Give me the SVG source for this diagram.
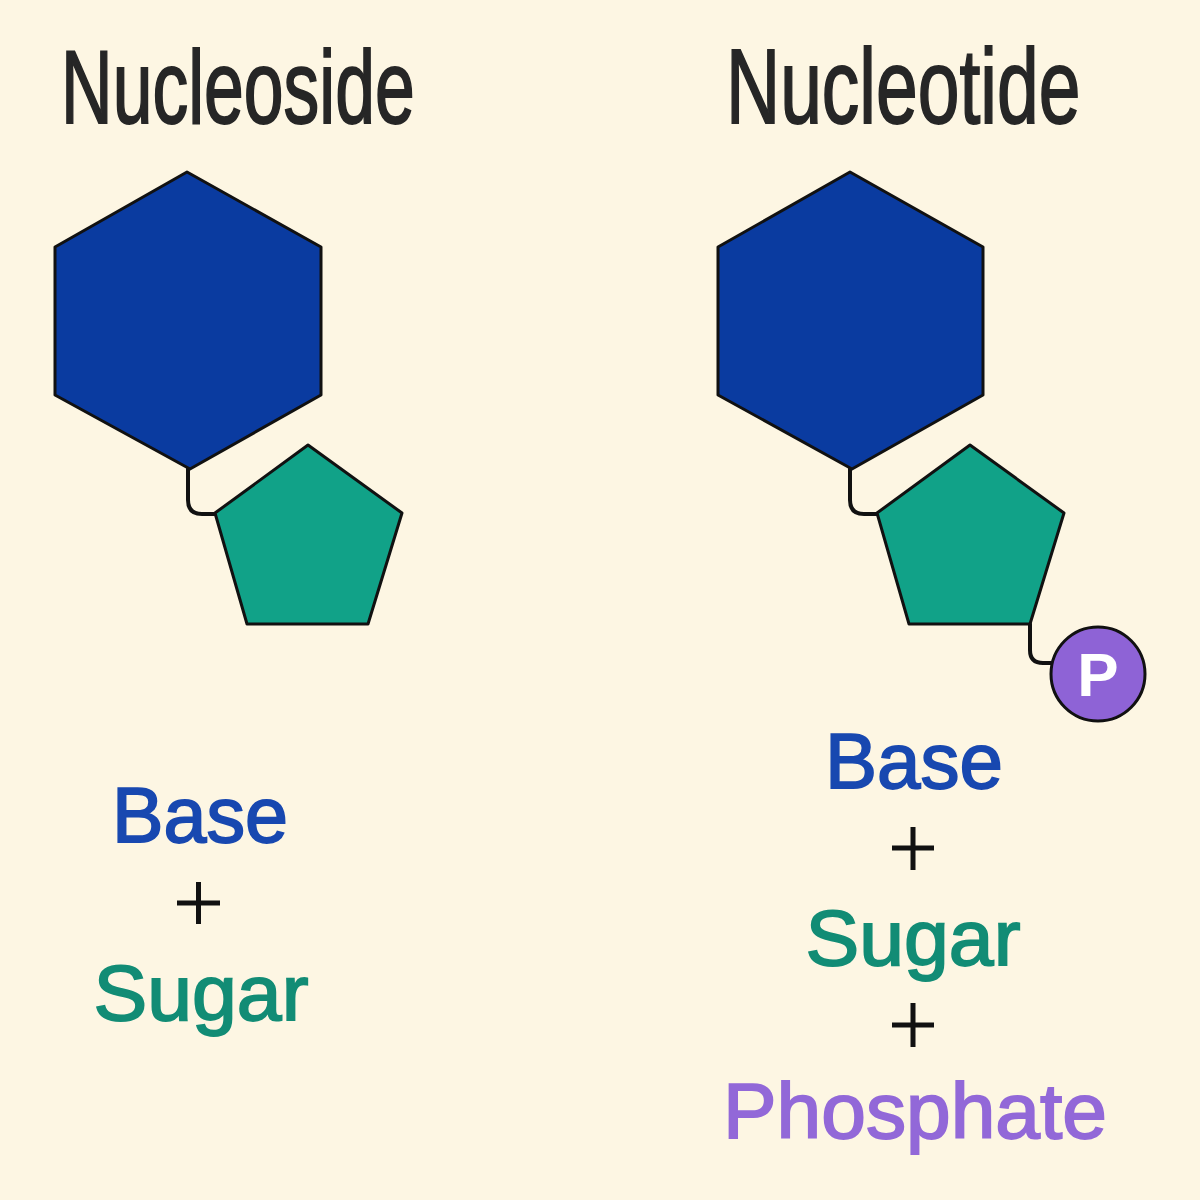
<svg xmlns="http://www.w3.org/2000/svg" width="1200" height="1200" viewBox="0 0 1200 1200">
<style>
.title{font-family:"Liberation Sans",Arial,sans-serif;font-size:75px;fill:#262626;stroke:#262626;stroke-width:1.3}
.lbl{font-family:"Liberation Sans",Arial,sans-serif;font-size:77px;text-anchor:middle;stroke-width:1.8}
.base{fill:#1848B0;stroke:#1848B0}
.sugar{fill:#128C75;stroke:#128C75}
.phos{fill:#9268D8;stroke:#9268D8}
.hex{fill:#0A3BA0;stroke:#111;stroke-width:3;stroke-linejoin:round}
.pent{fill:#11A288;stroke:#111;stroke-width:3;stroke-linejoin:round}
.link{fill:none;stroke:#111;stroke-width:4;stroke-linecap:round}
.plus{stroke:#111;stroke-width:5}
</style>
<rect width="1200" height="1200" fill="#FDF6E3"/>
<text class="title" transform="translate(61,123) scale(1,1.45)" style="font-size:71.5px">Nucleoside</text>
<text class="title" transform="translate(726,123) scale(1,1.4)">Nucleotide</text>
<g id="connectors">
<path class="link" d="M188,468 L188,500 Q188,514 202,514 L215,514"/>
<path class="link" d="M850,468 L850,500 Q850,514 864,514 L877,514"/>
<path class="link" d="M1030,624 L1030,650 Q1030,663 1043,663 L1053,663"/>
</g>
<g id="base-left"><polygon class="hex" points="187,172 321,247 321,395 190,469 55,395 55,247"/></g>
<g id="sugar-left"><polygon class="pent" points="308,445 402,513 368,624 247,624 215,513"/></g>
<g id="base-right"><polygon class="hex" points="850,172 983,247 983,395 852,469 718,395 718,247"/></g>
<g id="sugar-right"><polygon class="pent" points="970,445 1064,513 1030,624 909,624 877,513"/></g>
<g id="phosphate">
<circle cx="1098" cy="674" r="47" fill="#8E63D6" stroke="#111" stroke-width="3"/>
<text x="1098" y="696" font-family="'Liberation Sans',Arial,sans-serif" font-size="62" font-weight="bold" fill="#fff" text-anchor="middle">P</text>
</g>
<g id="formula-left">
<text class="lbl base" x="200" y="842" textLength="176" lengthAdjust="spacingAndGlyphs">Base</text>
<path class="plus" d="M177,903 H220 M198.5,882 V924"/>
<text class="lbl sugar" x="201" y="1020" textLength="215" lengthAdjust="spacingAndGlyphs">Sugar</text>
</g>
<g id="formula-right">
<text class="lbl base" x="914" y="788" textLength="178" lengthAdjust="spacingAndGlyphs">Base</text>
<path class="plus" d="M892,848 H934 M913,827 V870"/>
<text class="lbl sugar" x="913" y="965" textLength="215" lengthAdjust="spacingAndGlyphs">Sugar</text>
<path class="plus" d="M892,1025 H934 M913,1003 V1047"/>
<text class="lbl phos" x="915" y="1138" textLength="384" lengthAdjust="spacingAndGlyphs">Phosphate</text>
</g>
</svg>
